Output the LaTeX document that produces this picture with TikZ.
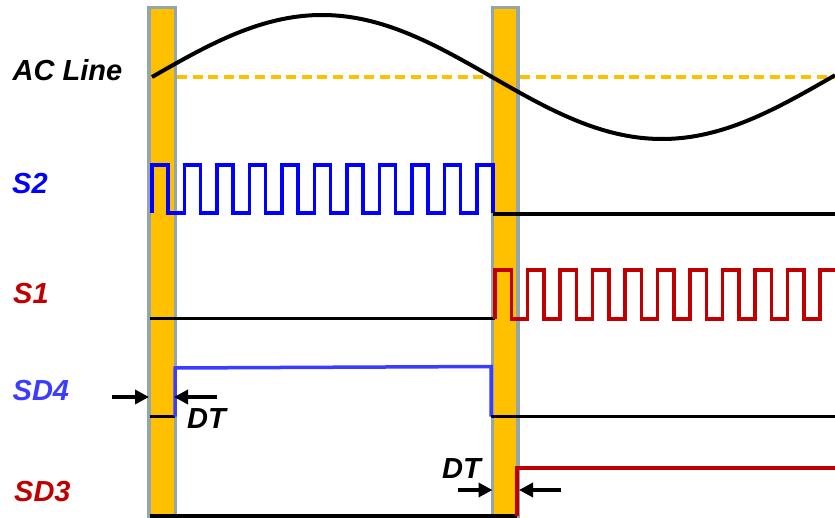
\documentclass[tikz,border=0pt]{standalone}
\usepackage{fontspec}
\setmainfont{Liberation Sans}
\usetikzlibrary{arrows.meta}
\definecolor{barorange}{RGB}{255,192,0}
\definecolor{bargray}{RGB}{147,166,170}
\definecolor{sigblue}{RGB}{0,0,255}
\definecolor{sdblue}{RGB}{60,60,255}
\definecolor{sigred}{RGB}{192,0,0}
\tikzset{
  deadbar/.style={fill=barorange, draw=bargray, line width=3.2pt},
  wave/.style={line width=3.5pt, line join=miter},
  lbl/.style={anchor=base west, inner sep=0pt, font=\fontsize{29}{30}\selectfont\bfseries\itshape},
  dtarrow/.style={line width=4pt, -{Triangle[length=14pt,width=14pt]}},
}
\begin{document}
\begin{tikzpicture}[x=1pt,y=-1pt]
\useasboundingbox (0,0) rectangle (835,518);
% dead-time bars
\draw[deadbar] (149,7.2) rectangle (175.5,540);
\draw[deadbar] (492.5,7.2) rectangle (518,540);
% labels
\node[lbl] (lac) at (12.5,81) {AC Line};
\node[lbl, text=sigblue] (ls2) at (12,193.3) {S2};
\node[lbl, text=sigred] (ls1) at (13,303.3) {S1};
\node[lbl, text=sdblue] (lsd4) at (12.5,400.7) {SD4};
\node[lbl, text=sigred] (lsd3) at (14,501.7) {SD3};
\node[lbl] (dt1) at (187,428) {DT};
\node[lbl] (dt2) at (442,478) {DT};
% AC line
\draw[barorange, line width=3.2pt, dash pattern=on 10pt off 5.6pt] (177,77) -- (835,77);
\draw[line width=4pt] plot[domain=152:835, samples=200, smooth] (\x,{77-62*sin((\x-152)/340*180)});
% S2
\draw[wave, sigblue] (152,213) \foreach \k in {0,...,10}{ -- ({152+32.5*\k},213) -- ({152+32.5*\k},165) -- ({168+32.5*\k},165) -- ({168+32.5*\k},213)};
\draw[wave] (493,214) -- (835,214);
% S1
\draw[wave] (150,318.5) -- (495,318.5);
\draw[wave, sigred] (495,319) \foreach \k in {0,...,9}{ -- ({495+32.5*\k},319) -- ({495+32.5*\k},270) -- ({511.5+32.5*\k},270) -- ({511.5+32.5*\k},319)} -- (820,319) -- (820,270) -- (835,270);
% SD4
\draw[wave] (150,416.5) -- (175,416.5);
\draw[wave, sdblue] (175,416.5) -- (175,368) -- (491,366.5) -- (491,416.5);
\draw[wave] (491,416.5) -- (835,416.5);
% SD3
\draw[wave] (150,516) -- (517,516);
\draw[wave, sigred] (517,516) -- (517,468) -- (835,468);
% DT arrows
\coordinate (a1s) at (112,397);
\coordinate (a1e) at (149,397);
\coordinate (a2s) at (217,397);
\coordinate (a2e) at (174,397);
\coordinate (a3s) at (457.5,490);
\coordinate (a3e) at (492.5,490);
\coordinate (a4s) at (561,490);
\coordinate (a4e) at (519,490);
\draw[dtarrow] (a1s) -- (a1e);
\draw[dtarrow] (a2s) -- (a2e);
\draw[dtarrow] (a3s) -- (a3e);
\draw[dtarrow] (a4s) -- (a4e);
\end{tikzpicture}
\end{document}
